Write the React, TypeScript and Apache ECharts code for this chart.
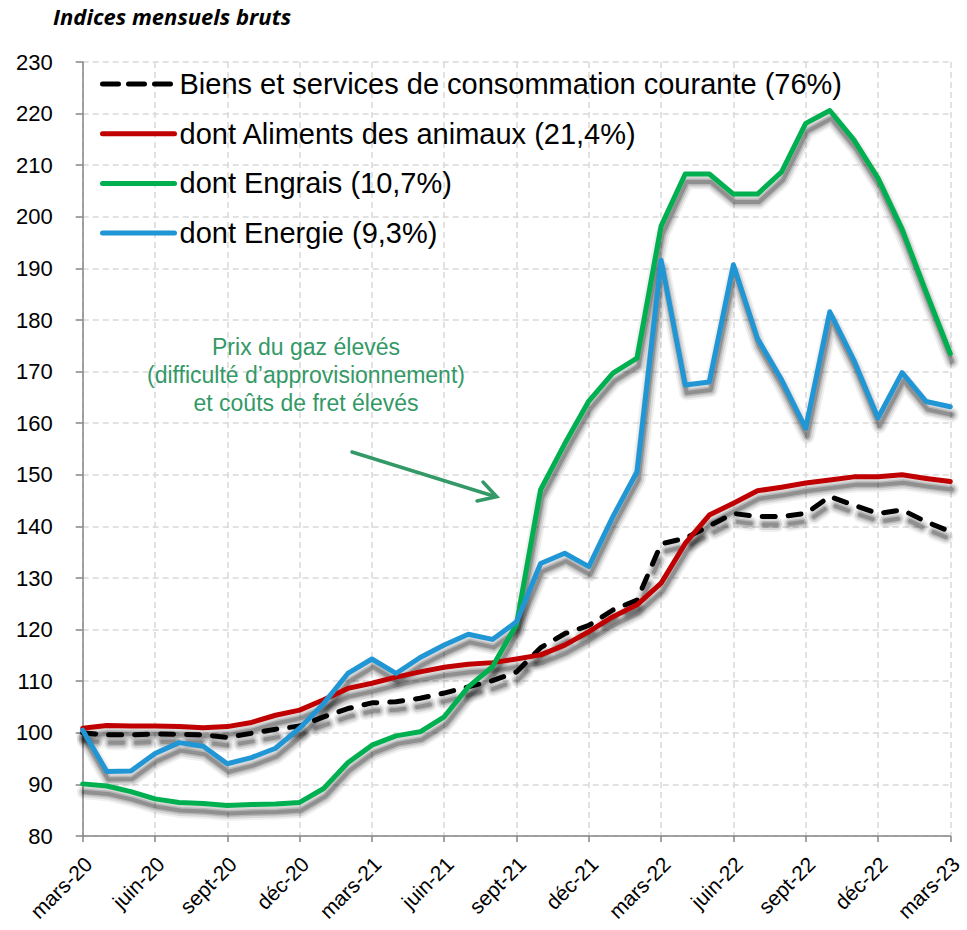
import React, { useEffect, useRef } from "react";
import * as echarts from "echarts";

const months = [
  "mars-20", "avr.-20", "mai-20", "juin-20", "juil.-20", "août-20", "sept-20", "oct.-20", "nov.-20", "déc-20",
  "janv.-21", "févr.-21", "mars-21", "avr.-21", "mai-21", "juin-21", "juil.-21", "août-21", "sept-21", "oct.-21",
  "nov.-21", "déc-21", "janv.-22", "févr.-22", "mars-22", "avr.-22", "mai-22", "juin-22", "juil.-22", "août-22",
  "sept-22", "oct.-22", "nov.-22", "déc-22", "janv.-23", "févr.-23", "mars-23",
];

const biensServices = [
  100.0, 99.6, 99.6, 99.8, 99.7, 99.6, 99.1, 99.9, 100.7, 101.3,
  103.1, 104.7, 105.8, 106.0, 106.7, 107.7, 108.9, 110.1, 111.8, 116.5,
  119.2, 120.8, 123.8, 125.7, 136.6, 137.7, 140.1, 142.5, 141.9, 141.9,
  142.5, 145.8, 144.1, 142.5, 143.2, 140.9, 139.0,
];

const aliments = [
  100.9, 101.4, 101.3, 101.3, 101.2, 101.0, 101.2, 102.0, 103.4, 104.4,
  106.4, 108.6, 109.6, 110.8, 111.8, 112.7, 113.3, 113.6, 114.3, 115.1,
  117.0, 119.6, 122.5, 124.8, 129.0, 136.7, 142.2, 144.5, 146.9, 147.6,
  148.4, 149.0, 149.6, 149.6, 150.0, 149.3, 148.7,
];

const engrais = [
  90.1, 89.7, 88.6, 87.2, 86.5, 86.3, 85.9, 86.1, 86.2, 86.5,
  89.2, 94.2, 97.6, 99.4, 100.2, 103.1, 108.9, 112.8, 121.0, 147.1,
  156.0, 164.3, 169.7, 172.6, 198.2, 208.3, 208.3, 204.4, 204.4, 208.7,
  218.1, 220.6, 214.9, 207.5, 197.6, 185.4, 173.5,
];

const energie = [
  100.5, 92.5, 92.6, 96.0, 98.1, 97.4, 94.0, 95.2, 97.0, 100.9,
  105.7, 111.5, 114.3, 111.5, 114.6, 117.0, 119.1, 118.1, 121.5, 132.8,
  134.8, 132.2, 141.9, 150.6, 191.6, 167.4, 168.0, 190.7, 176.4, 168.4,
  159.0, 181.6, 172.2, 161.0, 169.8, 164.2, 163.2,
];

const seriesNames = [
  "Biens et services de consommation courante (76%)",
  "dont Aliments des animaux (21,4%)",
  "dont Engrais (10,7%)",
  "dont Energie (9,3%)",
];

const colors = ["#000000", "#c00000", "#00b050", "#2196d5"];

const titleText = "Indices mensuels bruts";
const annotationText = "Prix du gaz élevés\n(difficulté d’approvisionnement)\net coûts de fret élevés";

const FONT = "'Liberation Sans', Arial, sans-serif";

export default function App() {
  const ref = useRef<HTMLDivElement>(null);

  useEffect(() => {
    if (!ref.current) return;
    const chart = echarts.init(ref.current, undefined, { renderer: "svg" });

    const values = [biensServices, aliments, engrais, energie];
    const DASH = [13, 13];

    const mainSeries = values.map((d, i) => ({
      name: seriesNames[i],
      type: "line",
      data: d,
      symbol: "none",
      z: 5 + i,
      xAxisIndex: 0,
      yAxisIndex: 0,
      itemStyle: { color: colors[i] },
      lineStyle: {
        color: colors[i],
        width: 5,
        type: i === 0 ? DASH : "solid",
        cap: "round",
        join: "round",
      },
    }));

    // soft drop shadow: same data drawn on an offset twin grid, in layered translucent grey
    const shadowLayers = [
      { w: 15, a: 0.06 },
      { w: 11, a: 0.1 },
      { w: 7, a: 0.15 },
      { w: 4, a: 0.21 },
    ];
    const shadowSeries: any[] = [];
    values.forEach((d, i) => {
      shadowLayers.forEach((l, k) => {
        shadowSeries.push({
          name: `_shadow_${i}_${k}`,
          type: "line",
          data: d,
          symbol: "none",
          silent: true,
          z: 1,
          xAxisIndex: 1,
          yAxisIndex: 1,
          lineStyle: {
            color: `rgba(0,0,0,${l.a})`,
            width: l.w,
            type: i === 0 ? DASH : "solid",
            cap: "round",
            join: "round",
          },
        });
      });
    });

    const green = "#339966";
    const gridLeft = 82.7;
    const gridRight = 16.7;
    const gridTop = 62;
    const gridBottom = 94;

    const option: any = {
      animation: false,
      grid: [
        {
          left: gridLeft, right: gridRight, top: gridTop, bottom: gridBottom,
          containLabel: false, outerBoundsMode: "none",
        },
        {
          left: gridLeft + 1.5, right: gridRight - 1.5, top: gridTop + 8, bottom: gridBottom - 8,
          containLabel: false, outerBoundsMode: "none",
        },
      ],
      legend: {
        orient: "vertical",
        left: 100,
        top: 69,
        padding: 0,
        itemWidth: 72,
        itemHeight: 12,
        itemGap: 19.7,
        textStyle: { fontSize: 29, color: "#000", fontFamily: FONT, lineHeight: 30 },
        itemStyle: { opacity: 0 },
        lineStyle: { width: 5, shadowBlur: 0, shadowOffsetX: 0, shadowOffsetY: 0, shadowColor: "rgba(0,0,0,0)" },
        data: seriesNames.map((n, i) =>
          i === 0
            ? { name: n, lineStyle: { type: [16, 10], cap: "round", width: 5 } }
            : { name: n }
        ),
      },
      xAxis: [
        {
          type: "category",
          data: months,
          boundaryGap: false,
          gridIndex: 0,
          axisLine: { lineStyle: { color: "#868686", width: 1.5 } },
          axisTick: { interval: 2, length: 6, lineStyle: { color: "#868686", width: 1.5 } },
          axisLabel: {
            interval: 2,
            rotate: 45,
            fontSize: 21,
            color: "#000",
            fontFamily: FONT,
            margin: 30,
            padding: [0, -8, 0, 0],
          },
          splitLine: {
            show: true,
            interval: 2,
            lineStyle: { type: [6, 4], color: "#d9d9d9", width: 1.5 },
          },
        },
        {
          type: "category",
          data: months,
          boundaryGap: false,
          gridIndex: 1,
          show: false,
        },
      ],
      yAxis: [
        {
          type: "value",
          min: 80,
          max: 230,
          interval: 10,
          gridIndex: 0,
          axisLine: { show: true, lineStyle: { color: "#868686", width: 1.5 } },
          axisTick: { show: true, length: 7, lineStyle: { color: "#868686", width: 1.5 } },
          axisLabel: { fontSize: 22, color: "#000", fontFamily: FONT, margin: 30 },
          splitLine: { show: true, lineStyle: { type: [6, 4], color: "#d9d9d9", width: 1.5 } },
        },
        {
          type: "value",
          min: 80,
          max: 230,
          interval: 10,
          gridIndex: 1,
          show: false,
        },
      ],
      graphic: [
        {
          type: "text",
          left: 53,
          top: 5,
          style: {
            text: titleText,
            font: "italic bold 22px 'Open Sans', sans-serif",
            fill: "#000",
          },
        },
        {
          type: "text",
          x: 306,
          y: 333,
          z: 10,
          style: {
            text: annotationText,
            font: `23px ${FONT}`,
            fill: green,
            align: "center",
            verticalAlign: "top",
            lineHeight: 28,
          },
        },
        {
          type: "line",
          z: 10,
          shape: { x1: 352, y1: 452, x2: 495, y2: 496.5 },
          style: { stroke: green, lineWidth: 3.5, lineCap: "round" },
        },
        {
          type: "polyline",
          z: 10,
          shape: { points: [[483, 482], [496.7, 496.7], [477, 501]] },
          style: { stroke: green, lineWidth: 3.5, fill: null, lineCap: "round", lineJoin: "miter" },
        },
      ],
      series: [...shadowSeries, ...mainSeries],
    };

    chart.setOption(option);
    return () => chart.dispose();
  }, []);

  return (
    <div
      ref={ref}
      style={{ position: "absolute", left: 0, top: 0, width: 967, height: 930 }}
    />
  );
}
